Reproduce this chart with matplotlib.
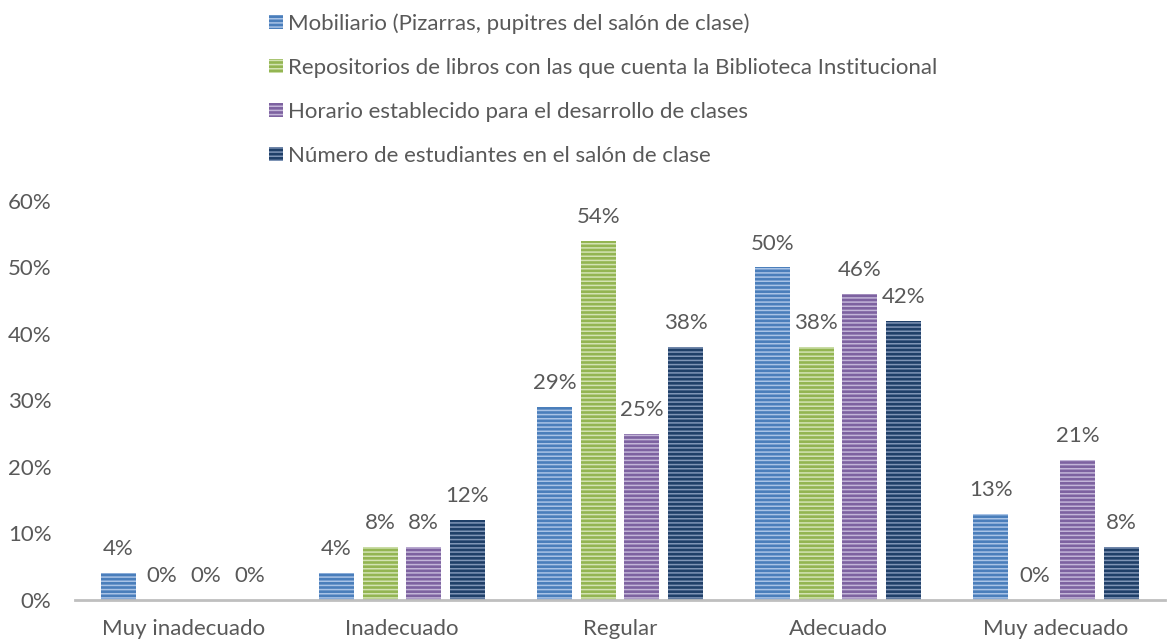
import matplotlib
matplotlib.use("Agg")
import matplotlib.pyplot as plt
import numpy as np
from matplotlib.patches import Patch

categories = ["Muy inadecuado", "Inadecuado", "Regular", "Adecuado", "Muy adecuado"]
series_names = [
    "Mobiliario (Pizarras, pupitres del salón de clase)",
    "Repositorios de libros con las que cuenta la Biblioteca Institucional",
    "Horario establecido para el desarrollo de clases",
    "Número de estudiantes en el salón de clase",
]
mobiliario = [4, 4, 29, 50, 13]
repositorios = [0, 8, 54, 38, 0]
horario = [0, 8, 25, 46, 21]
numero = [0, 12, 38, 42, 8]
values = [mobiliario, repositorios, horario, numero]

base_colors = ["#4a7ebb", "#93b552", "#7d62a0", "#1f3f68"]
stripe_colors = ["#a9c3e6", "#d3e3b3", "#c3b5d8", "#7f95b6"]

plt.rcParams['font.family'] = ['Lato', 'DejaVu Sans']
plt.rcParams['hatch.linewidth'] = 1.1
text_color = "#595959"
fs = 16

fig = plt.figure(figsize=(11.71, 6.43), dpi=100)
ax = fig.add_axes([0.064, 0.0669, 0.931, 0.6205])

x = np.arange(len(categories))
width = 0.16
step = 0.2
for i, (vals, bc, sc) in enumerate(zip(values, base_colors, stripe_colors)):
    pos = x + (i - 1.5) * step
    v = np.array(vals) / 100.0
    ax.bar(pos, v, width, color=bc, edgecolor=sc, linewidth=0, hatch='----')
    for xp, val in zip(pos, vals):
        ax.text(xp, val / 100.0 + 0.021, f"{val}%", ha='center', va='bottom',
                fontsize=fs, color=text_color)

ax.set_xlim(-0.5, len(categories) - 0.5)
ax.set_ylim(0, 0.6)
yt = np.arange(0, 0.61, 0.1)
ax.set_yticks(yt)
ax.set_yticklabels([f"{int(round(t*100))}%" for t in yt])
ax.set_xticks(x)
ax.set_xticklabels(categories)
ax.tick_params(axis='both', length=0, labelsize=fs, labelcolor=text_color)
ax.tick_params(axis='y', pad=17)
ax.tick_params(axis='x', pad=14)
for s in ['top', 'right', 'left']:
    ax.spines[s].set_visible(False)
ax.spines['bottom'].set_color('#bfbfbf')
ax.spines['bottom'].set_linewidth(2)

handles = [Patch(facecolor=bc, edgecolor=sc, linewidth=0, hatch='----')
           for bc, sc in zip(base_colors, stripe_colors)]
fig.legend(handles, series_names, loc='upper left', bbox_to_anchor=(0.2185, 1.0),
           frameon=False, fontsize=fs, labelcolor=text_color,
           handlelength=0.63, handleheight=0.63, handletextpad=0.22,
           labelspacing=1.08, borderaxespad=0.2)

fig.savefig("out.png", dpi=100)
